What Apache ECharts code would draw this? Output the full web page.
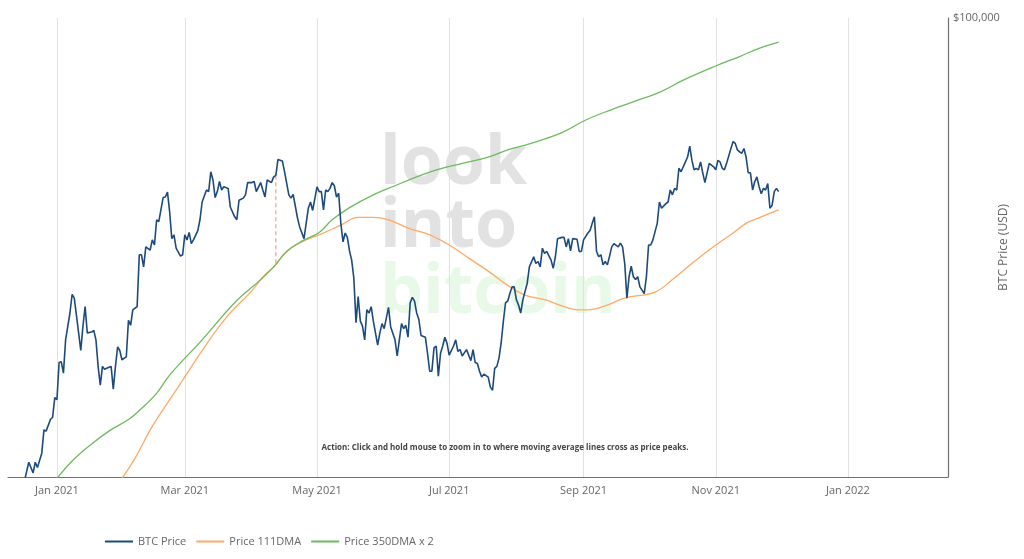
<!DOCTYPE html>
<html><head><meta charset="utf-8">
<script src="https://cdn.jsdelivr.net/npm/echarts@6/dist/echarts.min.js"></script>
<style>html,body{margin:0;padding:0;background:#fff}#c{width:1024px;height:559px}</style>
</head><body><div id="c"></div>
<script>
// ---- data ----
const btcPrice = [
['2020-12-17',21800],['2020-12-19',23200],['2020-12-21',22400],['2020-12-22',23200],['2020-12-23',22800],['2020-12-25',23900],['2020-12-26',25800],['2020-12-27',25700],['2020-12-29',26700],['2020-12-30',26900],['2020-12-31',28700],
['2021-01-01',28500],['2021-01-02',32200],['2021-01-03',32300],['2021-01-04',31100],['2021-01-05',34700],['2021-01-07',37900],['2021-01-08',40300],['2021-01-09',39800],['2021-01-11',35500],['2021-01-12',33500],['2021-01-13',36300],['2021-01-14',38700],['2021-01-15',35500],['2021-01-17',35600],['2021-01-18',35800],['2021-01-19',34700],['2021-01-20',31800],['2021-01-21',29900],['2021-01-22',31800],['2021-01-23',31500],['2021-01-25',31700],['2021-01-26',31800],['2021-01-27',29500],['2021-01-28',31800],['2021-01-29',33900],['2021-01-30',33500],['2021-01-31',32500],
['2021-02-02',32800],['2021-02-03',37000],['2021-02-04',36400],['2021-02-05',38300],['2021-02-07',38700],['2021-02-08',45900],['2021-02-09',45900],['2021-02-10',44100],['2021-02-11',47100],['2021-02-13',46600],['2021-02-14',48200],['2021-02-15',47400],['2021-02-16',51500],['2021-02-17',51200],['2021-02-19',55400],['2021-02-20',55500],['2021-02-21',56400],['2021-02-22',52900],['2021-02-23',48400],['2021-02-24',49000],['2021-02-25',46900],['2021-02-27',45700],['2021-02-28',45900],
['2021-03-01',49000],['2021-03-02',48200],['2021-03-03',49400],['2021-03-04',47600],['2021-03-05',48200],['2021-03-07',49700],['2021-03-08',51500],['2021-03-09',54600],['2021-03-11',56800],['2021-03-12',56500],['2021-03-13',60300],['2021-03-14',58700],['2021-03-15',55400],['2021-03-16',56500],['2021-03-17',58400],['2021-03-18',56800],['2021-03-19',57400],['2021-03-21',57100],['2021-03-22',53700],['2021-03-24',52000],['2021-03-25',51500],['2021-03-26',54900],['2021-03-28',55300],['2021-03-29',55900],['2021-03-30',58200],
['2021-04-01',58200],['2021-04-02',58400],['2021-04-03',56500],['2021-04-05',58200],['2021-04-06',56800],['2021-04-07',55500],['2021-04-08',58700],['2021-04-10',58200],['2021-04-11',59300],['2021-04-12',59600],['2021-04-13',62800],['2021-04-15',62500],['2021-04-16',60400],['2021-04-18',55900],['2021-04-19',55300],['2021-04-20',56000],['2021-04-22',51800],['2021-04-23',50300],['2021-04-25',48400],['2021-04-26',50900],['2021-04-27',53500],['2021-04-28',54600],['2021-04-29',53100],
['2021-05-01',57400],['2021-05-02',56500],['2021-05-03',56500],['2021-05-04',53200],['2021-05-05',56800],['2021-05-06',56500],['2021-05-07',57100],['2021-05-08',58200],['2021-05-09',57600],['2021-05-10',55500],['2021-05-11',56200],['2021-05-12',50900],['2021-05-13',47900],['2021-05-14',49300],['2021-05-15',48600],['2021-05-16',46500],['2021-05-17',45100],['2021-05-18',42500],['2021-05-19',36700],['2021-05-20',40000],['2021-05-21',36900],['2021-05-22',36300],['2021-05-23',34700],['2021-05-24',38300],['2021-05-25',37900],['2021-05-26',38700],['2021-05-27',36900],['2021-05-29',34100],['2021-05-30',35500],['2021-05-31',36600],
['2021-06-01',36000],['2021-06-03',38600],['2021-06-04',36200],['2021-06-06',34700],['2021-06-07',32900],['2021-06-08',34700],['2021-06-09',36600],['2021-06-10',36000],['2021-06-11',36400],['2021-06-12',35000],['2021-06-13',39200],['2021-06-14',39900],['2021-06-15',39400],['2021-06-16',37900],['2021-06-17',37100],['2021-06-18',35200],['2021-06-20',35000],['2021-06-21',33200],['2021-06-22',31300],['2021-06-23',31300],['2021-06-24',33800],['2021-06-25',34000],['2021-06-26',30800],['2021-06-27',33200],['2021-06-28',34000],['2021-06-29',35000],['2021-06-30',34300],
['2021-07-01',33000],['2021-07-03',34000],['2021-07-04',34700],['2021-07-05',33400],['2021-07-06',33600],['2021-07-07',32900],['2021-07-09',33600],['2021-07-11',32400],['2021-07-12',33600],['2021-07-13',32200],['2021-07-14',32100],['2021-07-15',31300],['2021-07-16',30700],['2021-07-17',31000],['2021-07-19',30700],['2021-07-20',29700],['2021-07-21',29400],['2021-07-22',31600],['2021-07-23',31800],['2021-07-24',32700],['2021-07-25',34400],['2021-07-26',36900],['2021-07-27',39200],['2021-07-28',39400],['2021-07-29',40400],['2021-07-30',41300],['2021-07-31',41300],
['2021-08-01',39600],['2021-08-02',38900],['2021-08-03',37900],['2021-08-04',39600],['2021-08-06',41800],['2021-08-07',44100],['2021-08-09',45600],['2021-08-10',44600],['2021-08-11',44900],['2021-08-12',44100],['2021-08-13',46900],['2021-08-14',46100],['2021-08-15',46400],['2021-08-17',45100],['2021-08-18',43900],['2021-08-19',45600],['2021-08-20',48400],['2021-08-22',48600],['2021-08-23',48600],['2021-08-24',47100],['2021-08-25',48400],['2021-08-26',46500],['2021-08-27',48400],['2021-08-29',48300],['2021-08-30',46400],['2021-08-31',46400],
['2021-09-01',48200],['2021-09-03',49300],['2021-09-04',49700],['2021-09-05',50900],['2021-09-06',52000],['2021-09-07',46400],['2021-09-08',45600],['2021-09-09',45900],['2021-09-10',44400],['2021-09-11',44900],['2021-09-12',44400],['2021-09-13',45700],['2021-09-14',47100],['2021-09-15',47600],['2021-09-17',47100],['2021-09-18',47700],['2021-09-19',47100],['2021-09-20',44600],['2021-09-21',39800],['2021-09-22',42700],['2021-09-23',44200],['2021-09-24',42700],['2021-09-25',42300],['2021-09-26',42700],['2021-09-27',41300],['2021-09-29',40400],['2021-09-30',42700],
['2021-10-01',47400],['2021-10-02',47400],['2021-10-03',48200],['2021-10-05',50900],['2021-10-06',54600],['2021-10-07',53500],['2021-10-09',54300],['2021-10-10',54600],['2021-10-11',56800],['2021-10-12',55900],['2021-10-13',57100],['2021-10-14',56800],['2021-10-15',61000],['2021-10-16',60300],['2021-10-17',61300],['2021-10-19',63300],['2021-10-20',65600],['2021-10-21',62600],['2021-10-22',60700],['2021-10-23',61000],['2021-10-24',60700],['2021-10-25',62300],['2021-10-26',60100],['2021-10-27',58200],['2021-10-28',60100],['2021-10-29',62000],['2021-10-31',61300],
['2021-11-01',60700],['2021-11-02',62600],['2021-11-03',62300],['2021-11-04',61000],['2021-11-05',60700],['2021-11-06',62000],['2021-11-08',65100],['2021-11-09',66600],['2021-11-10',66200],['2021-11-11',64800],['2021-11-12',64400],['2021-11-13',64100],['2021-11-14',65100],['2021-11-15',63300],['2021-11-16',60100],['2021-11-17',60100],['2021-11-18',56800],['2021-11-19',58400],['2021-11-20',59300],['2021-11-21',57400],['2021-11-22',56100],['2021-11-23',57100],['2021-11-24',56800],['2021-11-25',58000],['2021-11-26',53500],['2021-11-27',54000],['2021-11-28',56500],['2021-11-29',57100],['2021-11-30',56500]
];
const dma111 = [
['2021-01-31',22000],['2021-02-06',23500],['2021-02-14',26100],['2021-02-25',29400],['2021-03-09',33500],['2021-03-20',37300],['2021-04-01',40800],['2021-04-07',43000],['2021-04-11',44100],['2021-04-17',46400],['2021-04-24',47900],['2021-05-02',49000],['2021-05-12',50600],['2021-05-20',51900],['2021-05-27',51900],['2021-06-03',51500],['2021-06-12',50100],['2021-06-22',49000],['2021-07-01',47400],['2021-07-10',45400],['2021-07-19',43500],['2021-07-28',41500],['2021-08-05',40200],['2021-08-14',39600],['2021-08-22',38800],['2021-08-29',38300],['2021-09-03',38300],['2021-09-11',38800],['2021-09-20',39800],['2021-10-04',40600],['2021-10-12',42300],['2021-10-21',44600],['2021-10-30',46900],['2021-11-09',49300],['2021-11-15',50900],['2021-11-22',52000],['2021-11-30',53200]
];
const dma350x2 = [
['2021-01-01',22000],['2021-01-08',23300],['2021-01-16',24500],['2021-01-25',25700],['2021-02-03',26700],['2021-02-08',27500],['2021-02-16',29100],['2021-02-22',30900],['2021-03-09',34700],['2021-03-24',39200],['2021-04-05',42300],['2021-04-11',44100],['2021-04-17',46400],['2021-04-24',48000],['2021-05-02',49400],['2021-05-08',51500],['2021-05-16',53600],['2021-05-27',55900],['2021-06-06',57600],['2021-06-16',59300],['2021-06-26',60800],['2021-07-07',62000],['2021-07-19',63300],['2021-07-28',64800],['2021-08-07',66100],['2021-08-22',68600],['2021-09-02',71500],['2021-09-14',74000],['2021-09-27',76500],['2021-10-06',78300],['2021-10-17',81500],['2021-11-01',85400],['2021-11-12',88100],['2021-11-21',90500],['2021-11-30',92400]
];
const piCycleCross = [['2021-04-12',59600],['2021-04-12',44300]];
const xTickDates = ['2021-01-01','2021-03-01','2021-05-01','2021-07-01','2021-09-01','2021-11-01','2022-01-01'];
const xRange = ['2020-12-09 10:00','2022-02-16 04:00'];
const monthNames = ['Jan','Feb','Mar','Apr','May','Jun','Jul','Aug','Sep','Oct','Nov','Dec'];
const seriesNames = ['BTC Price','Price 111DMA','Price 350DMA x 2'];
const yMin = 22100, yMax = 100000;
const actionText = 'Action: Click and hold mouse to zoom in to where moving average lines cross as price peaks.';

// date string -> local timestamp
function ts(s) {
  const m = s.match(/^(\d{4})-(\d{2})-(\d{2})(?: (\d{2}):(\d{2}))?$/);
  return new Date(+m[1], +m[2] - 1, +m[3], m[4] ? +m[4] : 0, m[5] ? +m[5] : 0).getTime();
}
const toSeries = arr => arr.map(p => [ts(p[0]), p[1]]);

const chart = echarts.init(document.getElementById('c'), null, {renderer:'canvas'});
const FONT = '"Open Sans", "Noto Sans", sans-serif';
chart.setOption({
  animation: false,
  backgroundColor: '#fff',
  textStyle: {fontFamily: FONT},
  grid: {left: 8, right: 76, top: 18, bottom: 82, containLabel: false, outerBoundsMode: 'none'},
  xAxis: {
    type: 'value',
    min: ts(xRange[0]),
    max: ts(xRange[1]),
    axisLine: {show: true, lineStyle: {color: '#707070', width: 1.2}},
    axisTick: {show: false, customValues: xTickDates.map(ts)},
    axisLabel: {
      customValues: xTickDates.map(ts),
      color: '#666', fontSize: 11, margin: 8, fontFamily: FONT,
      formatter: function (v) { const d = new Date(v); return monthNames[d.getMonth()] + ' ' + d.getFullYear(); }
    },
    splitLine: {show: true, lineStyle: {color: '#e1e1e1', width: 1}}
  },
  yAxis: {
    type: 'log', logBase: 10, position: 'right',
    min: yMin, max: yMax,
    axisLine: {show: true, lineStyle: {color: '#707070', width: 1.2}},
    axisTick: {show: false},
    splitLine: {show: false},
    axisLabel: {
      color: '#666', fontSize: 11, margin: 5, fontFamily: FONT,
      formatter: function (v) { return v >= yMax * 0.999 ? '$' + echarts.format.addCommas(Math.round(v)) : ''; }
    },
    name: 'BTC Price (USD)', nameLocation: 'middle', nameRotate: 90, nameGap: 50, nameMoveOverlap: false,
    nameTextStyle: {color: '#666', fontSize: 12, fontFamily: FONT}
  },
  legend: {
    data: seriesNames, left: 100, top: 531, icon: 'rect', itemWidth: 28, itemHeight: 2, itemGap: 10,
    textStyle: {color: '#666', fontSize: 11, fontFamily: FONT}
  },
  graphic: [
    {type: 'text', z: -10, silent: true, style: {x: 380, y: 199, text: 'look', font: 'bold 68px "Open Sans"', fill: '#e2e2e2', verticalAlign: 'bottom'}},
    {type: 'text', z: -10, silent: true, style: {x: 380, y: 262, text: 'into', font: 'bold 68px "Open Sans"', fill: '#e2e2e2', verticalAlign: 'bottom'}},
    {type: 'text', z: -10, silent: true, style: {x: 380, y: 328, text: 'bitcoin', font: 'bold 68px "Open Sans"', fill: '#e8f9e8', verticalAlign: 'bottom'}},
    {type: 'text', z: 5, silent: true, style: {x: 505, y: 448, text: actionText, font: 'bold 8px "Open Sans"', fill: '#444', align: 'center', verticalAlign: 'middle'}}
  ],
  series: [
    {name: seriesNames[0], type: 'line', data: toSeries(btcPrice), symbol: 'none', color: '#1d4a7c', lineStyle: {width: 1.6, color: '#1d4a7c'}, z: 4},
    {name: seriesNames[1], type: 'line', data: toSeries(dma111), symbol: 'none', smooth: 0.4, color: '#ffa964', lineStyle: {width: 1.3, color: '#ffa964'}, z: 3},
    {name: seriesNames[2], type: 'line', data: toSeries(dma350x2), symbol: 'none', smooth: 0.4, color: '#6cbb5e', lineStyle: {width: 1.3, color: '#6cbb5e'}, z: 3},
    {name: 'Pi Cycle Cross', type: 'line', data: toSeries(piCycleCross), symbol: 'none', lineStyle: {width: 1.2, type: [4, 3], color: '#f59a9a'}, z: 2}
  ]
});
</script></body></html>
